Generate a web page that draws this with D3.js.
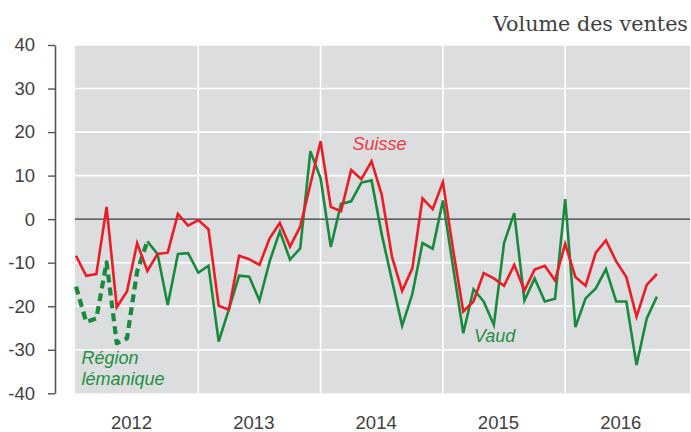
<!DOCTYPE html>
<html>
<head>
<meta charset="utf-8">
<script src="https://cdn.jsdelivr.net/npm/d3@7"></script>
<style>
  html, body { margin: 0; padding: 0; background: #ffffff; }
  svg { display: block; }
</style>
</head>
<body>
<svg id="chart" width="691" height="432"></svg>
<script>
// ---- data (monthly, Jan 2012 – Oct 2016) ----
const startYear = 2012;
const suisse = [
  -8.4, -13.0, -12.6, 2.8, -20.2, -16.6, -5.5, -11.9, -8.0, -7.7, 1.2, -1.5,
  -0.2, -2.3, -19.9, -20.8, -8.4, -9.2, -10.5, -4.4, -0.9, -6.3, -1.7, 8.0,
  17.9, 2.8, 1.8, 11.3, 9.2, 13.3, 5.6, -8.6, -16.5, -11.3, 4.8, 2.3,
  8.5, -7.0, -21.2, -18.9, -12.4, -13.6, -15.3, -10.5, -16.4, -11.6, -10.7, -14.1,
  -5.7, -13.3, -15.3, -7.7, -4.9, -9.7, -13.3, -22.4, -15.1, -12.6
];
const vaud = [
  -15.5, -23.6, -22.8, -9.9, -28.5, -27.4, -12.0, -5.1, -8.0, -19.7, -8.0, -7.8,
  -12.3, -10.7, -28.1, -20.7, -13.0, -13.2, -18.7, -9.7, -2.8, -9.3, -6.7, 15.6,
  9.4, -6.4, 3.5, 4.1, 8.4, 8.9, -3.5, -14.0, -24.5, -17.2, -5.5, -6.8,
  4.3, -11.0, -26.2, -16.1, -18.9, -24.3, -5.5, 1.4, -18.7, -13.6, -18.9, -18.3,
  4.6, -24.8, -18.2, -15.9, -11.5, -18.9, -18.9, -33.5, -22.8, -17.8
];
// Vaud series is drawn dashed ("Région lémanique") up to this month index
const vaudDashedUntil = 7;
const years = ["2012", "2013", "2014", "2015", "2016"];
const yTicks = [-40, -30, -20, -10, 0, 10, 20, 30, 40];
const title = "Volume des ventes";

// ---- layout ----
const svg = d3.select("#chart");
const plot = { left: 75, right: 690, top: 45, bottom: 393.3 };

const x = d3.scaleLinear().domain([0, 60]).range([76, 687.5]);
const y = d3.scaleLinear().domain([-40, 40]).range([plot.bottom, plot.top]);

const RED = "#ec1c24";
const GREEN = "#188a3d";
const TEXT = "#404040";
const SANS = "'Liberation Sans', Arial, sans-serif";

// background
svg.append("rect")
  .attr("x", plot.left).attr("y", plot.top)
  .attr("width", plot.right - plot.left).attr("height", plot.bottom - plot.top)
  .attr("fill", "#dcdddf");

// horizontal grid
svg.append("g").selectAll("line")
  .data(yTicks.filter(d => d !== 0 && d !== -40))
  .join("line")
  .attr("x1", plot.left).attr("x2", plot.right)
  .attr("y1", d => y(d)).attr("y2", d => y(d))
  .attr("stroke", "#ffffff").attr("stroke-width", 1.6);

// vertical grid at year boundaries
svg.append("g").selectAll("line")
  .data(years.slice(1))
  .join("line")
  .attr("x1", (d, i) => x((i + 1) * 12)).attr("x2", (d, i) => x((i + 1) * 12))
  .attr("y1", plot.top).attr("y2", plot.bottom)
  .attr("stroke", "#ffffff").attr("stroke-width", 1.6);

// zero line
svg.append("line")
  .attr("x1", plot.left).attr("x2", plot.right)
  .attr("y1", y(0)).attr("y2", y(0))
  .attr("stroke", "#3a3a3a").attr("stroke-width", 1.3);

// y axis
const yAxis = d3.axisLeft(y).tickValues(yTicks).tickFormat(d => String(d))
  .tickSize(7).tickSizeOuter(0).tickPadding(13);
const gy = svg.append("g").attr("transform", "translate(55,0)").call(yAxis);
gy.select(".domain").attr("stroke", "#555").attr("stroke-width", 1.6);
gy.selectAll(".tick line").attr("stroke", "#555").attr("stroke-width", 1.4);
gy.selectAll(".tick text")
  .attr("fill", TEXT).style("font-family", SANS).style("font-size", "18.5px");

// year labels
svg.append("g").selectAll("text")
  .data(years)
  .join("text")
  .attr("x", (d, i) => x(i * 12 + 5.45))
  .attr("y", 429)
  .attr("text-anchor", "middle")
  .attr("fill", TEXT)
  .style("font-family", SANS).style("font-size", "18.5px")
  .text(d => d);

// lines
const line = d3.line().x(d => x(d.i)).y(d => y(d.v));
const toPts = arr => arr.map((v, i) => ({ i, v }));
const suissePts = toPts(suisse);
const vaudPts = toPts(vaud);

svg.append("path")
  .datum(vaudPts.slice(0, vaudDashedUntil + 1))
  .attr("d", line)
  .attr("fill", "none").attr("stroke", GREEN).attr("stroke-width", 4.2)
  .attr("stroke-dasharray", "8,5").attr("stroke-linejoin", "round");

svg.append("path")
  .datum(vaudPts.slice(vaudDashedUntil))
  .attr("d", line)
  .attr("fill", "none").attr("stroke", GREEN).attr("stroke-width", 2.6)
  .attr("stroke-linejoin", "miter");

svg.append("path")
  .datum(suissePts)
  .attr("d", line)
  .attr("fill", "none").attr("stroke", RED).attr("stroke-width", 2.6)
  .attr("stroke-linejoin", "miter");

// series labels
const labels = [
  { t: "Suisse", x: 352.5, y: 150, c: "#ee3a42" },
  { t: "Vaud", x: 474, y: 342, c: "#1f8f42" },
  { t: "Région", x: 81.5, y: 364, c: "#1f8f42" },
  { t: "lémanique", x: 81.5, y: 385, c: "#1f8f42" }
];
svg.append("g").selectAll("text")
  .data(labels)
  .join("text")
  .attr("x", d => d.x).attr("y", d => d.y)
  .attr("fill", d => d.c)
  .style("font-family", SANS).style("font-size", "18px").style("font-style", "italic")
  .text(d => d.t);

// title
svg.append("text")
  .attr("x", 688).attr("y", 31)
  .attr("text-anchor", "end")
  .attr("fill", TEXT)
  .style("font-family", "'DejaVu Serif', serif").style("font-size", "20.7px")
  .text(title);
</script>
</body>
</html>
